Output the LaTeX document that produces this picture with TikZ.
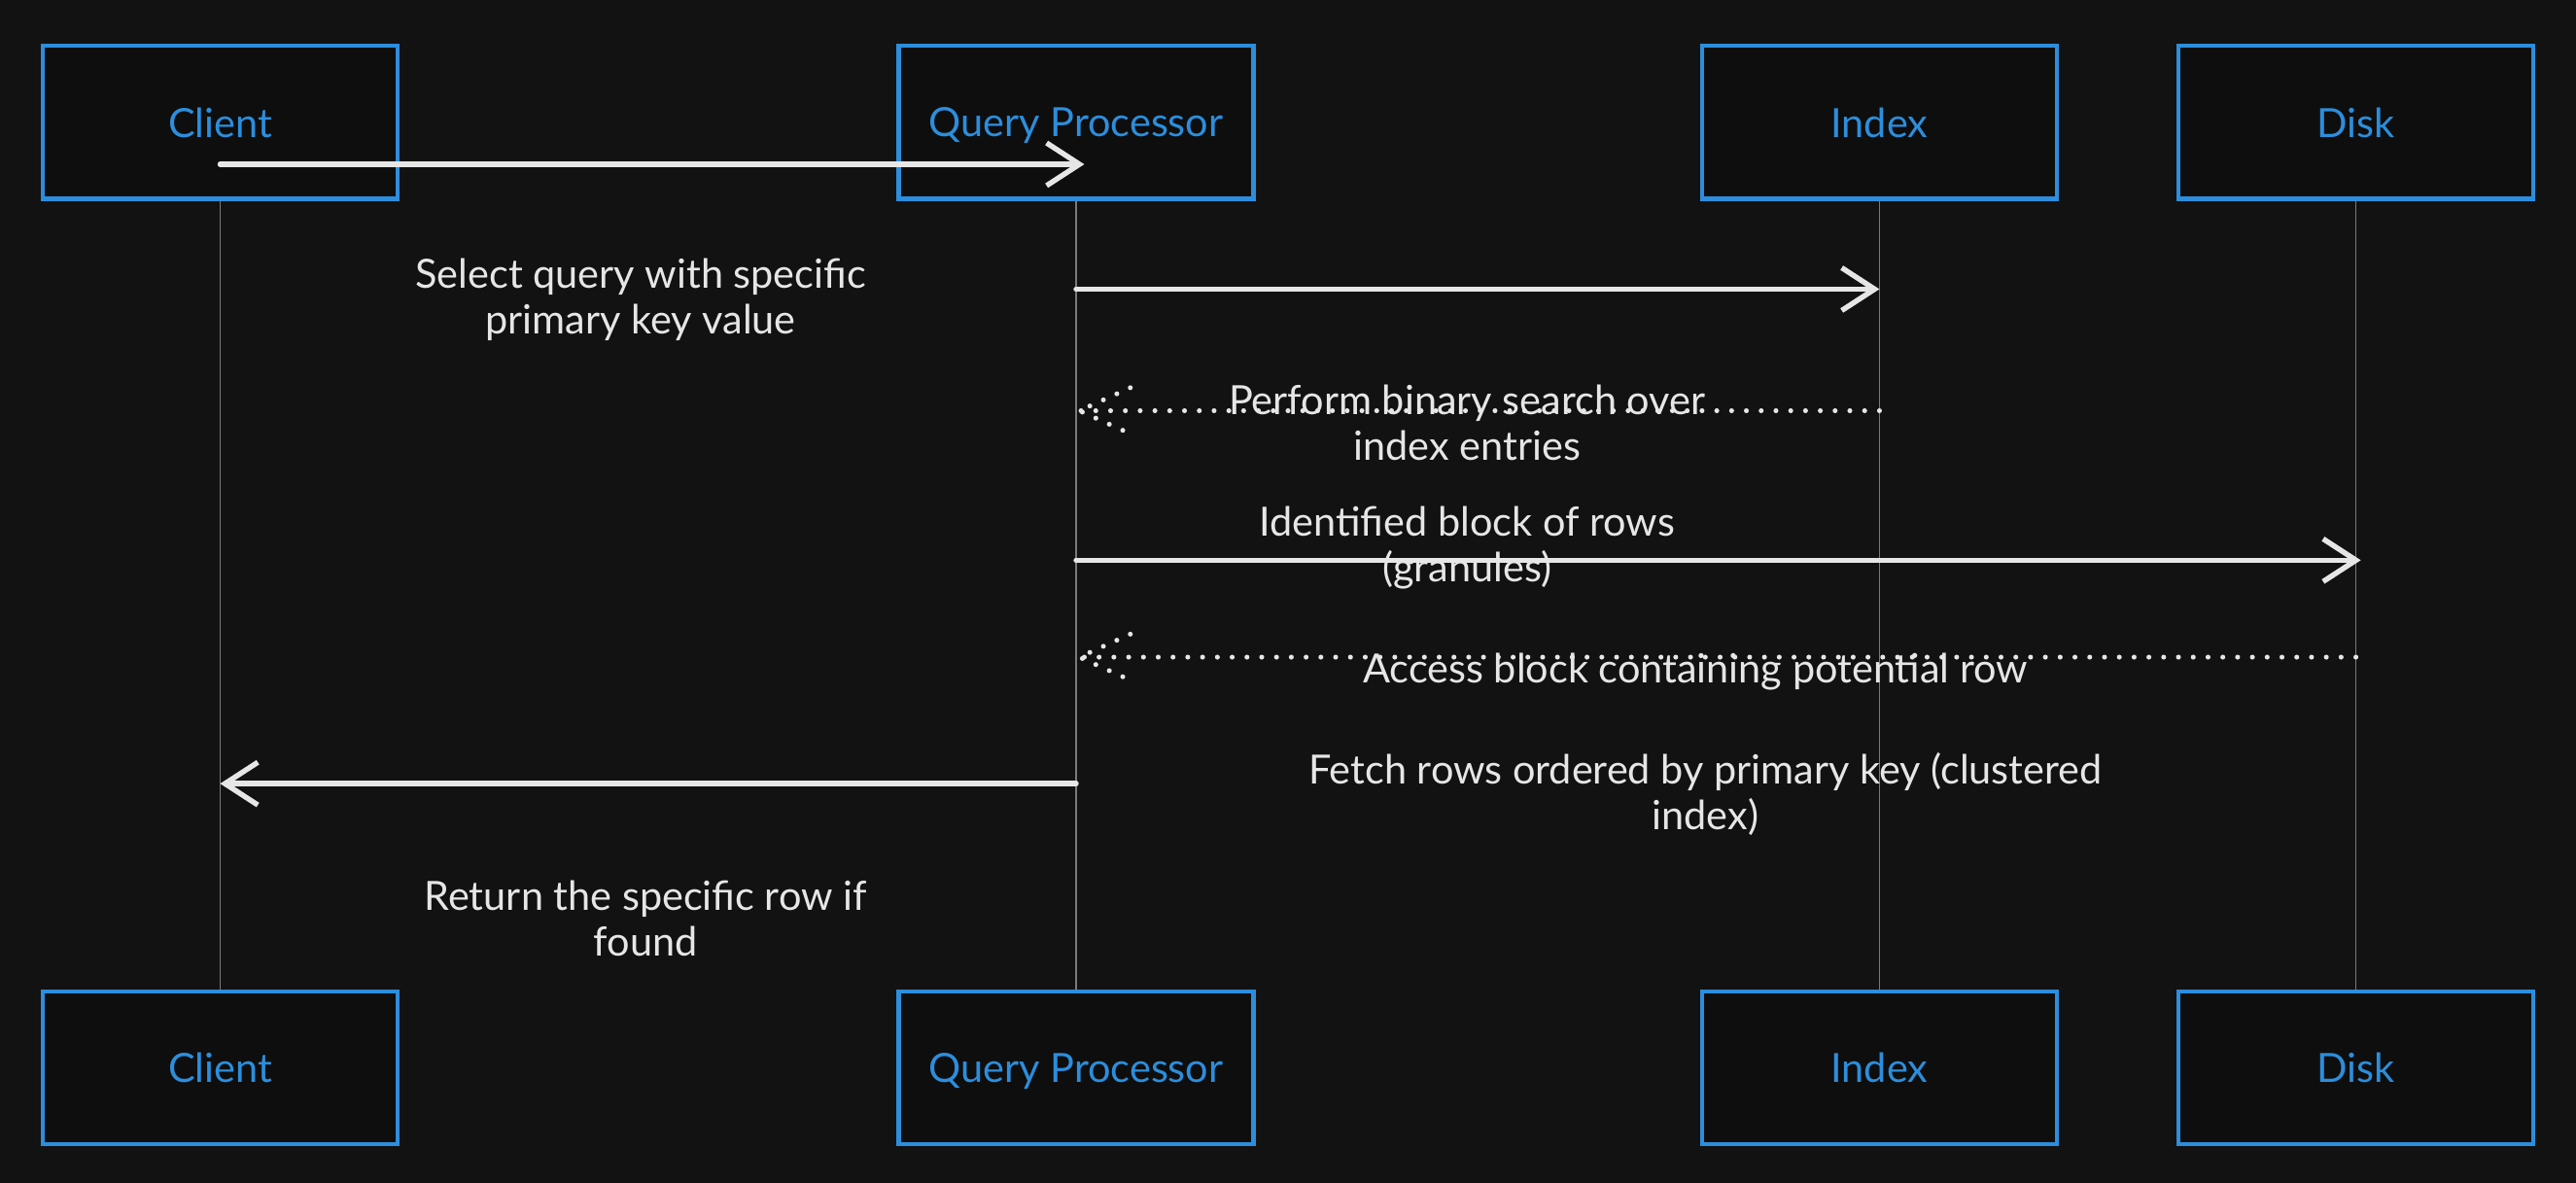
\documentclass[tikz,border=0pt]{standalone}
\usepackage{fontspec}
\setmainfont{Lato}
\usetikzlibrary{arrows.meta,calc}
\definecolor{bg}{HTML}{121212}
\definecolor{boxfill}{HTML}{0E0E0E}
\definecolor{boxblue}{HTML}{2C8EDC}
\definecolor{ink}{HTML}{E6E6E6}
\definecolor{life}{HTML}{7A7A7A}
\begin{document}
\begin{tikzpicture}[x=1pt,y=1pt,
  actor/.style={draw=boxblue, line width=2.5pt, fill=boxfill, minimum width=216pt, minimum height=93pt, inner sep=0pt, text=boxblue, font=\fontsize{24.5}{28}\selectfont, text depth=0pt},
  lifeline/.style={draw=life, line width=1pt},
  msg/.style={draw=ink, line width=3.2pt, line cap=round, -{Straight Barb[length=20pt,width=26pt,line width=3.2pt]}},
  dotmsg/.style={draw=ink, line width=3pt, line cap=round, dash pattern=on 0pt off 9pt},
  lbl/.style={text=ink, align=center, font=\fontsize{24.5}{28}\selectfont, inner sep=0pt}
]
\fill[bg] (0,0) rectangle (1568,-720);
\useasboundingbox (0,0) rectangle (1568,-720);

% actors
\node[actor] (clientT) at (134,-74.5) {Client};
\node[actor] (qpT) at (655,-74.5) {Query Processor};
\node[actor] (indexT) at (1144,-74.5) {Index};
\node[actor] (diskT) at (1434,-74.5) {Disk};
\node[actor] (clientB) at (134,-650) {Client};
\node[actor] (qpB) at (655,-650) {Query Processor};
\node[actor] (indexB) at (1144,-650) {Index};
\node[actor] (diskB) at (1434,-650) {Disk};

% lifelines
\draw[lifeline] (clientT.south) -- (clientB.north);
\draw[lifeline] (qpT.south) -- (qpB.north);
\draw[lifeline] (indexT.south) -- (indexB.north);
\draw[lifeline] (diskT.south) -- (diskB.north);

% message points
\coordinate (m1s) at (clientT.center |- 0,-100);
\coordinate (m1e) at ($(qpT.center |- 0,-100)+(5,0)$);
\coordinate (m2s) at (qpT.center |- 0,-176);
\coordinate (m2e) at (indexT.center |- 0,-176);
\coordinate (m3s) at (indexT.center |- 0,-250);
\coordinate (m3e) at ($(qpT.center |- 0,-250)+(2,0)$);
\coordinate (m4s) at (qpT.center |- 0,-341);
\coordinate (m4e) at ($(diskT.center |- 0,-341)+(3,0)$);
\coordinate (m5s) at (diskT.center |- 0,-400);
\coordinate (m5e) at ($(qpT.center |- 0,-400)+(2,0)$);
\coordinate (m6s) at (qpT.center |- 0,-477);
\coordinate (m6e) at (clientT.center |- 0,-477);

% messages
\draw[msg] (m1s) -- (m1e);
\draw[msg] (m2s) -- (m2e);
\draw[dotmsg] (m3s) -- (m3e);
\draw[dotmsg] ($(m3e)+(31,14)$) -- (m3e) -- ($(m3e)+(31,-14)$);
\draw[msg] (m4s) -- (m4e);
\draw[dotmsg] (m5s) -- (m5e);
\draw[dotmsg] ($(m5e)+(31,14)$) -- (m5e) -- ($(m5e)+(31,-14)$);
\draw[msg] (m6s) -- (m6e);

% labels
\node[lbl] (l1) at (390,-182.5) {Select query with specific\\primary key value};
\node[lbl] (l2) at (893,-257.5) {Perform binary search over\\index entries};
\node[lbl] (l3) at (893,-333.5) {Identified block of rows\\(granules)};
\node[lbl] (l4) at (1032,-409) {Access block containing potential row};
\node[lbl] (l5) at (1038,-483.5) {Fetch rows ordered by primary key (clustered\\index)};
\node[lbl] (l6) at (393,-559) {Return the specific row if\\found};
\end{tikzpicture}
\end{document}
